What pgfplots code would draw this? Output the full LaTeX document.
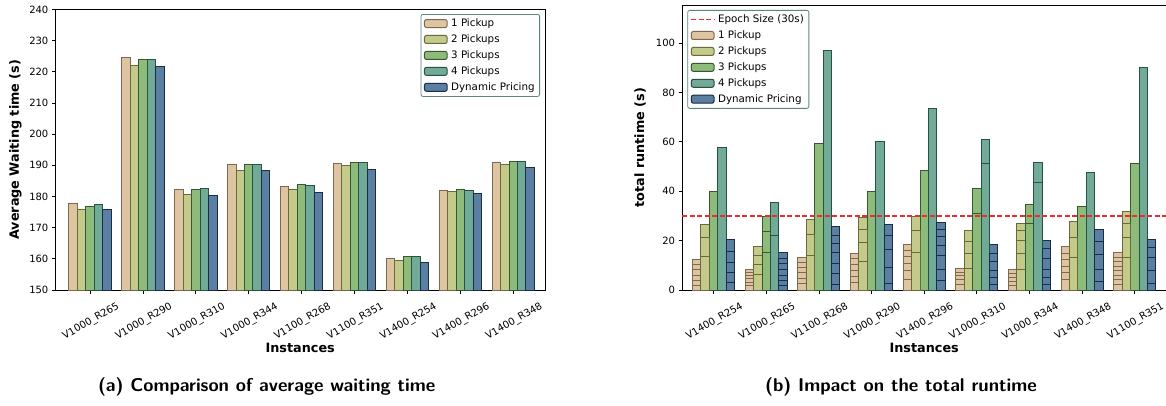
\documentclass[border=0pt]{standalone}
\usepackage{fontspec}
\setmainfont{DejaVu Sans}
\usepackage{pgfplots}
\pgfplotsset{compat=1.18}
\definecolor{f1}{RGB}{222,196,160}\definecolor{e1}{RGB}{125,105,80}
\definecolor{f2}{RGB}{196,202,138}\definecolor{e2}{RGB}{105,105,60}
\definecolor{f3}{RGB}{140,187,122}\definecolor{e3}{RGB}{55,88,48}
\definecolor{f4}{RGB}{113,170,150}\definecolor{e4}{RGB}{40,82,66}
\definecolor{f5}{RGB}{90,127,160}\definecolor{e5}{RGB}{25,45,72}
\definecolor{legframe}{RGB}{95,130,130}
\definecolor{epoch}{RGB}{235,45,45}
\pgfplotsset{
  barbase/.style={ybar, bar width=0.16, line width=1pt,
    legend image code/.code={\draw[##1] (0pt,-4pt) rectangle (22.7pt,4pt);}},
  s1/.style={barbase, bar shift=-0.32, fill=f1, draw=e1},
  s2/.style={barbase, bar shift=-0.16, fill=f2, draw=e2},
  s3/.style={barbase, bar shift=0, fill=f3, draw=e3},
  s4/.style={barbase, bar shift=0.16, fill=f4, draw=e4},
  s5/.style={barbase, bar shift=0.32, fill=f5, draw=e5},
  l1/.style={ybar, bar width=0.16, line width=1pt, bar shift=-0.32, fill=none, draw=e1, forget plot},
  l2/.style={ybar, bar width=0.16, line width=1pt, bar shift=-0.16, fill=none, draw=e2, forget plot},
  l3/.style={ybar, bar width=0.16, line width=1pt, bar shift=0, fill=none, draw=e3, forget plot},
  l4/.style={ybar, bar width=0.16, line width=1pt, bar shift=0.16, fill=none, draw=e4, forget plot},
  l5/.style={ybar, bar width=0.16, line width=1pt, bar shift=0.32, fill=none, draw=e5, forget plot},
  common/.style={
    scale only axis,
    font=\fontsize{10}{12}\selectfont,
    /pgf/number format/assume math mode=true,
    axis line style={black, line width=0.8pt},
    tick style={black, line width=0.8pt},
    major tick length=3.5pt,
    tick align=outside,
    xtick pos=left, ytick pos=left,
    xtick={0,...,8},
    xticklabel style={yshift=-28pt, xshift=1pt, rotate=30, anchor=center},
    label style={font=\fontsize{12.8}{15}\selectfont\bfseries},
    xlabel={Instances},
    xlabel style={at={([yshift=-58pt]axis description cs:0.5,0)}, anchor=center},
    legend cell align=left,
    legend style={draw=legframe, line width=0.8pt, rounded corners=2pt,
      fill=white, font=\fontsize{10.3}{12}\selectfont,
      inner xsep=3pt, inner ysep=2.5pt, row sep=2.6pt,
      /tikz/every odd column/.append style={column sep=1.5pt}},
  },
}
\begin{document}
\begin{tikzpicture}
% ---------------- (a) ----------------
\begin{axis}[common,
  at={(55.4pt,115pt)}, anchor=south west,
  width=489.6pt, height=280.5pt,
  xmin=-0.655, xmax=8.6, ymin=150, ymax=240,
  ytick={150,160,...,240},
  xticklabels={V1000\_R265,V1000\_R290,V1000\_R310,V1000\_R344,V1100\_R268,V1100\_R351,V1400\_R254,V1400\_R296,V1400\_R348},
  ylabel={Average Waiting time (s)},
  ylabel style={at={([xshift=-40pt]axis description cs:0,0.5)}, anchor=center},
  legend style={at={(1,1)}, anchor=north east, xshift=-5pt, yshift=-4.5pt},
]
\addplot[s1] coordinates {(0,177.6)(1,224.5)(2,182.2)(3,190.3)(4,183.1)(5,190.7)(6,160.0)(7,182.0)(8,190.9)};
\addlegendentry{1 Pickup}
\addplot[s2] coordinates {(0,175.9)(1,221.9)(2,180.5)(3,188.3)(4,182.4)(5,189.9)(6,159.4)(7,181.7)(8,190.3)};
\addlegendentry{2 Pickups}
\addplot[s3] coordinates {(0,176.8)(1,223.9)(2,182.3)(3,190.3)(4,183.7)(5,191.0)(6,160.7)(7,182.3)(8,191.3)};
\addlegendentry{3 Pickups}
\addplot[s4] coordinates {(0,177.4)(1,223.9)(2,182.5)(3,190.3)(4,183.6)(5,191.0)(6,160.7)(7,182.0)(8,191.3)};
\addlegendentry{4 Pickups}
\addplot[s5] coordinates {(0,175.9)(1,221.6)(2,180.2)(3,188.2)(4,181.4)(5,188.7)(6,158.7)(7,180.9)(8,189.3)};
\addlegendentry{Dynamic Pricing}
\end{axis}
% ---------------- (b) ----------------
\begin{axis}[common,
  at={(682pt,115pt)}, anchor=south west,
  width=484.4pt, height=284.5pt,
  xmin=-0.6, xmax=8.6, ymin=0, ymax=115.2,
  ytick={0,20,...,100},
  xticklabels={V1400\_R254,V1000\_R265,V1100\_R268,V1000\_R290,V1400\_R296,V1000\_R310,V1000\_R344,V1400\_R348,V1100\_R351},
  ylabel={total runtime (s)},
  ylabel style={at={([xshift=-42pt]axis description cs:0,0.5)}, anchor=center},
  legend style={at={(0,1)}, anchor=north west, xshift=5.3pt, yshift=-4.5pt},
]
\addlegendimage{legend image code/.code={\draw[epoch, dash pattern=on 5pt off 2.5pt, line width=1.2pt] (0pt,0pt) -- (22.7pt,0pt);}}
\addlegendentry{Epoch Size (30s)}
\addplot[s1] coordinates {(0,12.5)(1,8.5)(2,13.2)(3,14.8)(4,18.4)(5,8.6)(6,8.2)(7,17.6)(8,15.1)};
\addlegendentry{1 Pickup}
\addplot[s2] coordinates {(0,26.5)(1,17.8)(2,28.5)(3,29.5)(4,29.6)(5,24.1)(6,26.9)(7,27.9)(8,31.9)};
\addlegendentry{2 Pickups}
\addplot[s3] coordinates {(0,40.0)(1,29.7)(2,59.4)(3,39.7)(4,48.2)(5,40.9)(6,34.5)(7,33.9)(8,51.3)};
\addlegendentry{3 Pickups}
\addplot[s4] coordinates {(0,57.6)(1,35.5)(2,96.8)(3,60.2)(4,73.4)(5,60.8)(6,51.5)(7,47.5)(8,89.9)};
\addlegendentry{4 Pickups}
\addplot[s5] coordinates {(0,20.6)(1,15.3)(2,25.6)(3,26.4)(4,27.5)(5,18.3)(6,19.9)(7,24.6)(8,20.6)};
\addlegendentry{Dynamic Pricing}
% inner segment lines
\addplot[l1] coordinates {(0,10.3)(0,8.2)(0,6.0)(0,3.9)(0,1.8)
  (1,7.1)(1,5.7)(1,4.5)(1,3.2)(1,1.8)
  (2,11.3)(2,9.2)(2,6.9)(2,4.7)(2,2.6)
  (3,12.6)(3,10.4)(3,8.0)(3,5.6)(3,3.0)
  (4,16.0)(4,13.4)(4,10.6)(4,7.8)(4,4.3)
  (5,7.1)(5,5.7)(5,4.1)(5,2.4)
  (6,6.6)(6,5.0)(6,3.4)(6,1.7)
  (7,14.9)(7,12.2)(7,9.5)(7,7.1)(7,4.4)
  (8,13.3)(8,11.4)(8,9.5)(8,7.8)(8,6.0)(8,4.2)(8,2.4)};
\addplot[l2] coordinates {(0,21.4)(0,13.6)
  (1,14.1)(1,10.4)(1,6.2)
  (2,22.3)(2,14.1)
  (3,24.6)(3,19.2)(3,11.7)
  (4,24.0)(4,15.2)
  (5,19.6)(5,14.9)(5,8.8)
  (6,24.0)(6,20.1)(6,14.7)(6,8.5)
  (7,21.4)(7,13.2)
  (8,27.1)(8,21.4)(8,13.0)};
\addplot[l3] coordinates {(1,23.7)(1,15.3)(5,31.1)(6,27.1)};
\addplot[l4] coordinates {(1,22.2)(5,51.3)(6,43.5)};
\addplot[l5] coordinates {(0,15.6)(0,11.3)(0,7.0)(0,3.0)
  (1,12.9)(1,10.6)(1,8.2)(1,6.0)(1,3.8)(1,1.8)
  (2,22.0)(2,19.0)(2,15.1)(2,10.9)(2,6.7)(2,2.4)
  (3,22.0)(3,16.4)(3,9.0)(3,2.6)
  (4,24.4)(4,21.7)(4,18.0)(4,13.9)(4,8.5)(4,3.7)
  (5,14.9)(5,11.4)(5,8.0)(5,5.0)(5,2.1)
  (6,16.8)(6,12.7)(6,8.5)(6,5.0)(6,2.1)
  (7,19.7)(7,14.3)(7,8.5)(7,3.5)
  (8,17.2)(8,13.3)(8,7.8)(8,2.8)};
\addplot[epoch, dash pattern=on 5pt off 2.5pt, line width=1.2pt, forget plot] coordinates {(-0.6,30)(8.6,30)};
\end{axis}
\node[font=\sffamily\bfseries\fontsize{18.5}{22}\selectfont] at (266.7pt,18pt) {(a) Comparison of average waiting time};
\node[font=\sffamily\bfseries\fontsize{18.5}{22}\selectfont] at (901pt,18pt) {(b) Impact on the total runtime};
\pgfresetboundingbox
\path (0pt,0pt) rectangle (1166pt,405pt);
\end{tikzpicture}
\end{document}
